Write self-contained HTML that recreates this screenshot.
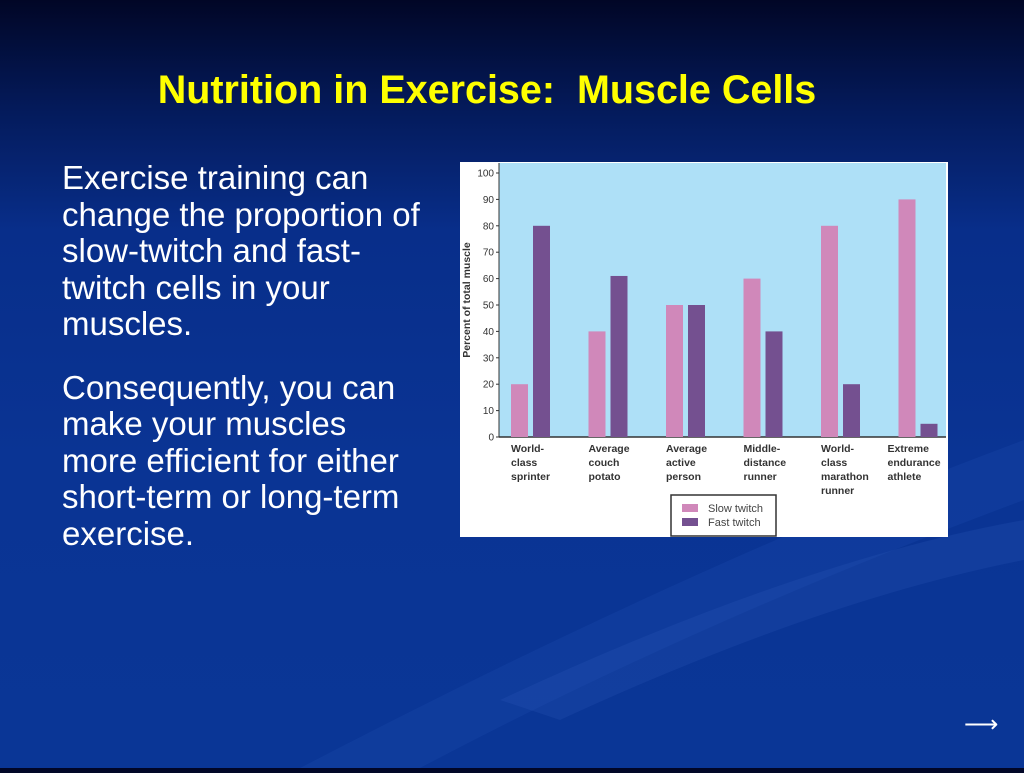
<!DOCTYPE html>
<html><head><meta charset="utf-8"><style>
html,body{margin:0;padding:0}
body{width:1024px;height:768px;overflow:hidden;position:relative;font-family:"Liberation Sans",sans-serif;
background:linear-gradient(180deg,#010626 0%,#041a5a 14%,#082e8a 30%,#0a3494 60%,#0a3696 100%);}
#title{position:absolute;left:0;width:974px;top:68px;text-align:center;color:#ffff00;font-weight:bold;font-size:39.5px;white-space:nowrap}
#body{position:absolute;left:62px;top:160px;color:#fff;font-size:33px;line-height:36.5px;white-space:nowrap}
#body p{margin:0 0 27px 0}
#arrow{position:absolute;left:964px;top:710px;color:#fff;font-size:24px}
#chart{position:absolute;left:460px;top:162px}
</style></head><body>
<div id="bg" style="position:absolute;inset:0;pointer-events:none">
<svg width="1024" height="768"><path d="M300 768 Q700 560 1024 440 L1024 500 Q700 620 420 768Z" fill="#1a48a8" opacity="0.35"/><path d="M500 700 Q800 560 1024 520 L1024 560 Q820 600 560 720Z" fill="#2a58b8" opacity="0.25"/></svg></div>
<div id="title">Nutrition in Exercise:&nbsp; Muscle Cells</div>
<div id="body">
<p>Exercise training can<br>change the proportion of<br>slow-twitch and fast-<br>twitch cells in your<br>muscles.</p>
<p>Consequently, you can<br>make your muscles<br>more efficient for either<br>short-term or long-term<br>exercise.</p>
</div>
<div id="arrow">⟶</div>
<svg id="chart" width="488" height="375" font-family="Liberation Sans, sans-serif"></svg>
<script>
const categories=[["World-","class","sprinter"],["Average","couch","potato"],["Average","active","person"],["Middle-","distance","runner"],["World-","class","marathon","runner"],["Extreme","endurance","athlete"]];
const slowTwitch=[20,40,50,60,80,90];
const fastTwitch=[80,61,50,40,20,5];
const yTicks=[0,10,20,30,40,50,60,70,80,90,100];
const NS="http://www.w3.org/2000/svg";
const svg=document.getElementById('chart');
function mk(t,a,p){const e=document.createElementNS(NS,t);for(const k in a)e.setAttribute(k,a[k]);(p||svg).appendChild(e);return e;}
const y=v=>275-v*2.64;
const x0=v=>51+v*77.5;
const bg=mk('rect',{x:0,y:0,width:488,height:375,fill:'#fff'});


const pa=mk('rect',{x:39,y:1,width:447,height:274,fill:'#aee0f7'});


mk('line',{x1:39,y1:1,x2:39,y2:275,stroke:'#333','stroke-width':1});
mk('line',{x1:39,y1:275,x2:486,y2:275,stroke:'#333','stroke-width':1.5});
yTicks.forEach(t=>{
 mk('line',{x1:36,y1:y(t),x2:39,y2:y(t),stroke:'#333'});
 const tx=mk('text',{x:34,y:y(t)+3.5,'font-size':10,'text-anchor':'end',fill:'#333'});tx.textContent=t;
 
 
});
const yt=mk('text',{transform:'translate(10,138) rotate(-90)','font-size':10.5,'font-weight':'bold','text-anchor':'middle',fill:'#333'});
yt.textContent='Percent of total muscle';


categories.forEach((c,i)=>{
 const b1=mk('rect',{x:x0(i),y:y(slowTwitch[i]),width:17,height:275-y(slowTwitch[i]),fill:'#d088ba'});
 
 
 const b2=mk('rect',{x:x0(i)+22,y:y(fastTwitch[i]),width:17,height:275-y(fastTwitch[i]),fill:'#745090'});
 
 
 c.forEach((ln,j)=>{const t=mk('text',{x:i==5?x0(i)-11:x0(i),y:290+j*14,'font-size':10.5,'font-weight':'bold',fill:'#333'});t.textContent=ln;
 
 });
});
const lg=mk('g',{});


mk('rect',{x:211,y:333,width:105,height:41,fill:'#fff',stroke:'#333','stroke-width':1.5},lg);
mk('rect',{x:222,y:342,width:16,height:8,fill:'#d088ba'},lg);
mk('rect',{x:222,y:356,width:16,height:8,fill:'#745090'},lg);
const l1=mk('text',{x:248,y:350,'font-size':11,fill:'#444'},lg);l1.textContent='Slow twitch';


const l2=mk('text',{x:248,y:364,'font-size':11,fill:'#444'},lg);l2.textContent='Fast twitch';


</script>
</body></html>
